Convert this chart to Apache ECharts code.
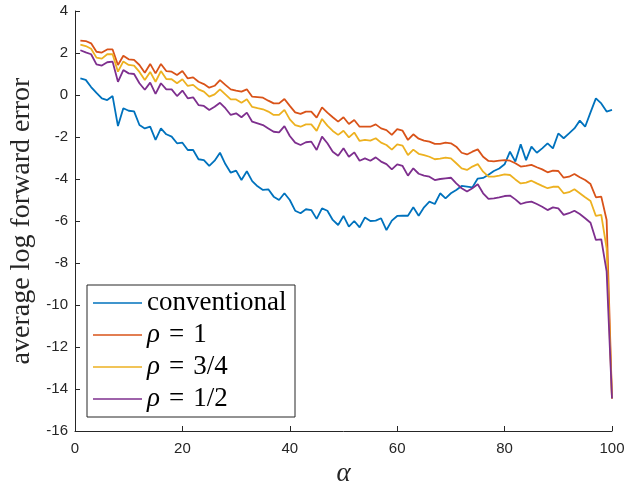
<!DOCTYPE html>
<html>
<head>
<meta charset="utf-8">
<script src="https://cdn.jsdelivr.net/npm/echarts@6/dist/echarts.min.js"></script>
<style>
html,body{margin:0;padding:0;background:#fff;}
#chart{width:625px;height:484px;}
</style>
</head>
<body>
<div id="chart"></div>
<script>
const alpha = Array.from({length: 100}, (_, i) => i + 1);
const seriesNames = ['conventional', 'ρ = 1', 'ρ = 3/4', 'ρ = 1/2'];
const xTicks = [0, 20, 40, 60, 80, 100];
const yTicks = [-16, -14, -12, -10, -8, -6, -4, -2, 0, 2, 4];

const conventional = [0.79,0.72,0.38,0.1,-0.16,-0.24,-0.05,-1.48,-0.63,-0.75,
-0.78,-1.43,-1.59,-1.51,-2.14,-1.59,-1.87,-1.98,-2.3,-2.27,
-2.62,-2.62,-3.06,-3.1,-3.38,-3.13,-2.75,-3.29,-3.7,-3.6,
-4.05,-3.63,-4.1,-4.35,-4.52,-4.49,-4.84,-5.0,-4.68,-5.0,
-5.51,-5.63,-5.44,-5.48,-5.9,-5.4,-5.51,-5.95,-6.19,-5.76,
-6.27,-6.0,-6.3,-5.83,-6.0,-5.98,-5.87,-6.43,-5.98,-5.76,
-5.75,-5.75,-5.35,-5.75,-5.35,-5.08,-5.19,-4.68,-4.92,-4.68,
-4.52,-4.33,-4.36,-4.4,-3.98,-3.95,-3.8,-3.62,-3.5,-3.3,
-2.7,-3.17,-2.35,-3.1,-2.46,-2.75,-2.54,-2.3,-2.54,-1.83,
-2.06,-1.83,-1.59,-1.22,-1.51,-0.83,-0.16,-0.4,-0.79,-0.71];

const rho1 = [2.59,2.57,2.46,2.06,2.02,2.17,2.17,1.43,1.87,1.7,
1.67,1.43,1.06,1.48,1.03,1.48,1.14,1.11,0.95,1.14,
0.79,0.84,0.63,0.52,0.35,0.44,0.71,0.48,0.27,0.21,
0.16,0.27,-0.08,-0.1,-0.13,-0.27,-0.4,-0.4,-0.19,-0.52,
-0.83,-0.9,-0.79,-0.79,-1.08,-0.59,-0.84,-1.06,-1.27,-1.06,
-1.38,-1.19,-1.51,-1.51,-1.51,-1.4,-1.59,-1.67,-1.9,-1.63,
-1.7,-2.14,-1.87,-2.08,-2.17,-2.22,-2.33,-2.33,-2.27,-2.3,
-2.46,-2.75,-2.83,-2.7,-2.59,-2.94,-3.14,-3.16,-3.13,-3.1,
-3.13,-3.25,-3.41,-3.38,-3.33,-3.44,-3.54,-3.68,-3.6,-3.62,
-3.94,-3.89,-3.76,-3.92,-4.05,-4.24,-4.87,-4.84,-5.95,-14.45];

const rho34 = [2.4,2.33,2.2,1.78,1.73,1.94,1.94,1.11,1.6,1.43,
1.4,1.1,0.71,1.1,0.63,1.14,0.76,0.75,0.56,0.75,
0.43,0.48,0.27,0.16,-0.08,0.03,0.27,0.03,-0.21,-0.21,
-0.37,-0.2,-0.57,-0.63,-0.68,-0.79,-0.95,-0.95,-0.71,-1.16,
-1.43,-1.51,-1.4,-1.4,-1.71,-1.14,-1.46,-1.71,-1.9,-1.7,
-2.02,-1.79,-2.19,-2.14,-2.17,-2.06,-2.27,-2.38,-2.6,-2.35,
-2.41,-2.86,-2.6,-2.8,-2.86,-2.94,-3.06,-3.03,-2.98,-3.02,
-3.25,-3.49,-3.57,-3.41,-3.29,-3.65,-3.89,-3.89,-3.84,-3.78,
-3.81,-4.02,-4.21,-4.17,-4.08,-4.21,-4.33,-4.44,-4.37,-4.37,
-4.68,-4.63,-4.49,-4.68,-4.87,-5.05,-5.76,-5.71,-7.3,-14.45];

const rho12 = [2.13,2.03,1.94,1.46,1.4,1.56,1.59,0.63,1.19,1.03,
1.0,0.56,0.25,0.59,0.05,0.56,0.27,0.27,-0.05,0.21,
-0.16,-0.11,-0.48,-0.52,-0.71,-0.56,-0.37,-0.63,-0.95,-0.87,
-1.06,-0.84,-1.27,-1.35,-1.43,-1.59,-1.75,-1.78,-1.48,-1.95,
-2.27,-2.38,-2.25,-2.22,-2.62,-1.98,-2.3,-2.7,-2.89,-2.54,
-2.94,-2.73,-3.13,-3.02,-3.13,-2.97,-3.17,-3.29,-3.54,-3.3,
-3.38,-3.84,-3.49,-3.75,-3.84,-3.89,-4.05,-4.0,-3.97,-3.94,
-4.21,-4.44,-4.6,-4.44,-4.25,-4.68,-4.95,-4.92,-4.87,-4.81,
-4.79,-4.97,-5.19,-5.11,-5.08,-5.19,-5.32,-5.48,-5.35,-5.4,
-5.71,-5.63,-5.51,-5.67,-5.87,-6.08,-6.9,-6.87,-8.4,-14.45];

const colors = ['#0072BD', '#D95319', '#EDB120', '#7E2F8E'];
const allValues = [conventional, rho1, rho34, rho12];
const axisColor = '#262626';
const tickFont = 'Liberation Sans, Arial, Helvetica, sans-serif';
const serifFont = 'Liberation Serif, Times New Roman, serif';

const chart = echarts.init(document.getElementById('chart'), null, {renderer: 'canvas'});

const series = seriesNames.map((name, k) => ({
  name: name,
  type: 'line',
  data: alpha.map((a, i) => [a, allValues[k][i]]),
  showSymbol: false,
  symbol: 'none',
  lineStyle: {width: 1.8, color: colors[k]},
  itemStyle: {color: colors[k]},
  emphasis: {disabled: true},
  animation: false
}));

chart.setOption({
  backgroundColor: '#ffffff',
  animation: false,
  grid: {left: 75, right: 13, top: 11, bottom: 53, containLabel: false, outerBoundsMode: 'none'},
  xAxis: {
    type: 'value',
    min: xTicks[0], max: xTicks[xTicks.length - 1], interval: 20,
    name: 'α',
    nameLocation: 'middle',
    nameGap: 27,
    nameTextStyle: {fontFamily: serifFont, fontStyle: 'italic', fontSize: 27, color: axisColor},
    axisLine: {onZero: false, lineStyle: {color: axisColor, width: 1}},
    axisTick: {inside: true, length: 5, lineStyle: {color: axisColor}},
    axisLabel: {color: axisColor, fontFamily: tickFont, fontSize: 15, margin: 10},
    splitLine: {show: false}
  },
  yAxis: {
    type: 'value',
    min: yTicks[0], max: yTicks[yTicks.length - 1], interval: 2,
    name: 'average log forward error',
    nameLocation: 'middle',
    nameGap: 34,
    nameTextStyle: {fontFamily: serifFont, fontSize: 28, color: axisColor},
    axisLine: {show: true, onZero: false, lineStyle: {color: axisColor, width: 1}},
    axisTick: {show: true, inside: true, length: 5, lineStyle: {color: axisColor}},
    axisLabel: {color: axisColor, fontFamily: tickFont, fontSize: 15, margin: 7},
    splitLine: {show: false}
  },
  legend: {
    orient: 'vertical',
    left: 87,
    top: 285,
    padding: [4, 6, 4, 6],
    itemGap: 4,
    itemWidth: 49,
    itemHeight: 1.5,
    icon: 'rect',
    backgroundColor: '#ffffff',
    borderColor: axisColor,
    borderWidth: 1,
    borderRadius: 0,
    data: seriesNames,
    formatter: function (name) {
      return name.replace('ρ', '{i|ρ}').replace(/ /g, '\u2004');
    },
    textStyle: {
      fontFamily: serifFont, fontSize: 27, color: '#000000', lineHeight: 28, width: 142,
      rich: {
        i: {fontFamily: serifFont, fontStyle: 'italic', fontSize: 27, lineHeight: 28, color: '#000000'}
      }
    }
  },
  series: series
});
</script>
</body>
</html>
